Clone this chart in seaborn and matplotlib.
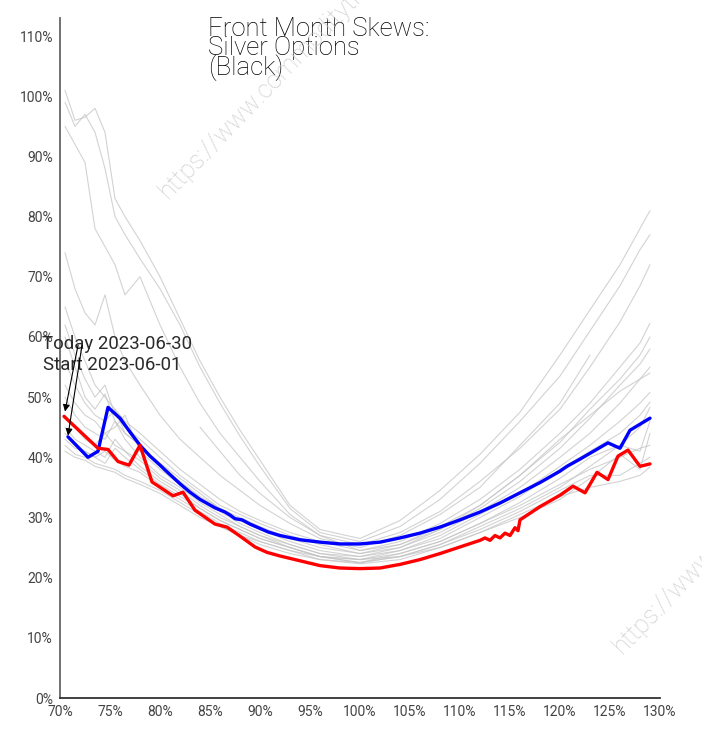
import numpy as np
import pandas as pd
import matplotlib
matplotlib.use("Agg")
import matplotlib.pyplot as plt
import seaborn as sns

# ---------------- data ----------------
grey_strikes = [70.5, 71.5, 72.5, 73.5, 74.5, 75.5, 76.5, 78, 80, 82, 84, 86, 88, 90,
                93, 96, 100, 104, 108, 112, 116, 120, 123, 126, 128, 129]
nan = np.nan
g01 = [101, 96, 96.5, 98, 94, 83, 80, 76, 70, 63, 56, 50, 44.5, 39.5, 32, 28, 26.5, 29.5, 34.5, 40.5, 47.5, 57, 64.5, 72, 78, 81]
g02 = [99, 95, 97, 94, 88, 80, 77, 73, 68, 62, 55, 49, 43.5, 38.5, 31.5, 27.5, 26, 28.5, 33, 39, 46, 53.5, 61, 68.5, 74.5, 77]
g03 = [95, 92, 89, 78, 75, 72, 67, 70, 62, 55, 49, 44, 40, 36, 30.5, 27, 25.5, 27.5, 31, 36, 41.5, 48, 55, 62.5, 68.5, 72]
g04 = [74, 68, 64, 62, 67, 60, 56, 52, 47, 43, 40, 37, 34.5, 32, 29, 26.5, 25, 27, 30.5, 35, 42, 49, 57, nan, nan, nan]
g05 = [65, 60, 56, 52, 50, 48, 46, 44, 41, 38, 35.5, 33, 31, 29.5, 27.5, 26, 24.5, 26, 29, 33, 38, 44, 49, 55, 59, 62.3]
g06 = [62, 57, 53, 50, 52, 47, 45, 43, 40, 37, 34.5, 32, 30.5, 29, 27, 25.5, 24, 25.5, 28.5, 32, 37, 42.5, 48, 53, 57, 60]
g07 = [60, 55, 50, 48, 50.5, 46, 44, 42, 39, 36.5, 34, 31.5, 30, 28.5, 26.5, 25, 24, 25, 28, 31.5, 36, 41.5, 46.5, 52, 55.5, 58]
g08 = [56, 52, 49, 47, 46, 48, 44, 42, 38.5, 36, 33.5, 31.5, 29.5, 28, 26, 24.5, 23.5, 25, 27.5, 31, 35, 40, 44, 49, 53, 55]
g09 = [52, 49, 47, 46, 44, 45, 47, 41, 38, 35.5, 33, 31, 29, 27.5, 25.5, 24, 23.5, 24.5, 27, 30.5, 34, 38.5, 42, 46, 49, 50.8]
g10 = [50, 47, 45, 44, 43, 46, 43, 40, 37, 35, 32.5, 30.5, 28.5, 27, 25.5, 24, 23, 24.5, 26.5, 30, 33.5, 38, 41, 44, 47, 49.2]
g11 = [47, 45, 43, 42, 44, 42, 41, 39.5, 36.5, 34.5, 32, 30, 28.5, 27, 25, 23.5, 23, 24, 26, 29, 32.5, 36.5, 40, 42, 45, 48.3]
g12 = [45, 43, 42, 41, 40, 43, 41, 38.5, 36, 34, 31.5, 29.5, 28, 26.5, 25, 23.5, 22.5, 24, 26, 29, 32, 35.5, 38, 40, 41.5, 42]
g13 = [43, 41.5, 41, 40, 41, 39.5, 38.5, 37.5, 35, 33, 31, 29, 27.5, 26, 24.5, 23.5, 22.5, 23.5, 25.5, 28, 31, 34.5, 37, 37, 39, 40]
g14 = [42, 40.5, 40, 39, 38.5, 38, 37, 36, 34.5, 32.5, 30.5, 28.5, 27, 26, 24.5, 23, 22.5, 23.5, 25, 27.5, 30.5, 33.5, 35, 36, 37, 38.4]
g15 = [41, 40, 39.5, 38.5, 38, 37.5, 36.5, 35.5, 34, 32, 30, 28.5, 27, 25.5, 24, 23, 22.3, 23, 25, 27.5, 30, 33, 36.5, 40.5, 38, 44]
g16 = [44, 42, 41, 40, 39, 41.5, 40, 38, 35.5, 33.5, 31.5, 29.5, 28, 26.5, 25, 23.5, 23, 23.5, 25.5, 28.5, 31.5, 35, 38.5, 42, 41, 46]
g17 = [nan, nan, nan, nan, nan, nan, nan, nan, nan, nan, 45, 41, 37, 34, 30, 27, 24.5, 25.5, 28, 32, 37, 43, 47, 51, 53, 54]
grey_series = [g01, g02, g03, g04, g05, g06, g07, g08, g09, g10, g11, g12, g13, g14, g15, g16, g17]

start_strikes = [70.8, 72.8, 73.8, 74.8, 76, 77, 78, 79, 80, 80.5, 82, 83, 84, 85.5, 86.5, 87, 87.5,
                 88.2, 89, 90.8, 92, 94, 96, 98, 100, 102, 104, 106, 108, 110, 112, 114, 116,
                 118, 120, 120.7, 122, 124.8, 126, 127, 129]
start_vols = [43.4, 40.0, 41.0, 48.3, 46.5, 44.2, 42.0, 40.2, 38.7, 37.9, 35.6, 34.2, 33.0, 31.6, 30.9, 30.4, 29.8,
              29.6, 28.9, 27.6, 27.0, 26.3, 25.9, 25.6, 25.6, 25.9, 26.6, 27.4, 28.4, 29.6, 30.9, 32.4, 34.1,
              35.8, 37.7, 38.5, 39.7, 42.4, 41.5, 44.5, 46.5]

today_strikes = [70.4, 73.8, 74.8, 75.8, 76.9, 78.0, 79.2, 81.3, 82.3, 83.5, 85.5, 86.7, 88, 89.5, 90.7,
                 92, 93.5, 96, 98, 100, 102, 104, 106, 108, 110, 112, 112.5, 113, 113.5, 114, 114.5,
                 115, 115.5, 115.8, 116, 118, 120, 121.3, 122.5, 123.7, 124.8, 125.8, 126.8, 128, 129]
today_vols = [46.8, 41.5, 41.3, 39.3, 38.7, 42.0, 35.9, 33.6, 34.2, 31.2, 28.9, 28.4, 26.9, 25.1, 24.2,
              23.6, 23.0, 22.0, 21.6, 21.5, 21.6, 22.2, 23.0, 24.0, 25.1, 26.2, 26.6, 26.2, 27.0, 26.6, 27.4,
              27.0, 28.3, 27.8, 29.6, 31.8, 33.7, 35.2, 34.1, 37.5, 36.3, 40.2, 41.2, 38.5, 38.9]

x_ticks = [70, 75, 80, 85, 90, 95, 100, 105, 110, 115, 120, 125, 130]
y_ticks = [0, 10, 20, 30, 40, 50, 60, 70, 80, 90, 100, 110]
title_lines = ["Front Month Skews:", "Silver Options", "(Black)"]
today_label = "Today 2023-06-30"
start_label = "Start 2023-06-01"
watermark = "https://www.commoditytrader.com"

# ---------------- style ----------------
sns.set_style("white")
plt.rcParams["font.family"] = ["Roboto", "DejaVu Sans"]

W, H = 702, 730
fig = plt.figure(figsize=(W / 100, H / 100), dpi=100)
ax = fig.add_axes([60 / W, 1 - 698 / H, 600 / W, 680 / H])

rows = []
for i, s in enumerate(grey_series):
    for x, v in zip(grey_strikes, s):
        if not np.isnan(v):
            rows.append({"curve": i, "strike": x, "vol": v})
grey_df = pd.DataFrame(rows)

sns.lineplot(data=grey_df, x="strike", y="vol", units="curve", estimator=None,
             color="#c4c4c4", alpha=0.75, linewidth=0.8, ax=ax, legend=False)
sns.lineplot(x=start_strikes, y=start_vols, color="#0000ff", linewidth=2.4, ax=ax,
             estimator=None, sort=False)
sns.lineplot(x=today_strikes, y=today_vols, color="#ff0000", linewidth=2.4, ax=ax,
             estimator=None, sort=False)

ax.set_xlim(70, 130)
ax.set_ylim(0, 113)
ax.set_xticks(x_ticks)
ax.set_xticklabels([f"{t}%" for t in x_ticks])
ax.set_yticks(y_ticks)
ax.set_yticklabels([f"{t}%" for t in y_ticks])
ax.set_xlabel("")
ax.set_ylabel("")
for side in ["top", "right"]:
    ax.spines[side].set_visible(False)
ax.spines["left"].set_color("#666666")
ax.spines["left"].set_linewidth(1.3)
ax.spines["bottom"].set_color("#333333")
ax.spines["bottom"].set_linewidth(1.3)
ax.tick_params(axis="both", direction="out", length=4, width=1, color="#444444",
               labelsize=10, labelcolor="#444444", pad=1)

# annotations
ax.text(68.2, 58.0, today_label, fontsize=13.4, color="#2a2a2a",
        ha="left", va="baseline")
ax.text(68.3, 54.5, start_label, fontsize=13.4, color="#2a2a2a",
        ha="left", va="baseline")
ax.annotate("", xy=(70.5, 47.6), xytext=(71.8, 58.6),
            arrowprops=dict(arrowstyle="-|>", color="black", lw=0.8, mutation_scale=10,
                            shrinkA=0, shrinkB=0), annotation_clip=False)
ax.annotate("", xy=(70.8, 43.6), xytext=(72.2, 58.6),
            arrowprops=dict(arrowstyle="-|>", color="black", lw=0.8, mutation_scale=10,
                            shrinkA=0, shrinkB=0), annotation_clip=False)

# title
for i, (line, base) in enumerate(zip(title_lines, [36, 55, 75])):
    fig.text(208 / W, 1 - base / H, line, fontsize=18.5, color="#000000",
             fontweight="light", ha="left", va="baseline")

# watermarks
fig.text(168 / W, 1 - 200 / H, watermark, fontsize=18, color="#c8c8c8", alpha=0.9,
         rotation=46, rotation_mode="anchor", ha="left", va="baseline", fontweight="light")
fig.text(622 / W, 1 - 655 / H, watermark, fontsize=18, color="#c8c8c8", alpha=0.9,
         rotation=46, rotation_mode="anchor", ha="left", va="baseline", fontweight="light")

fig.savefig("out.png", dpi=100)
